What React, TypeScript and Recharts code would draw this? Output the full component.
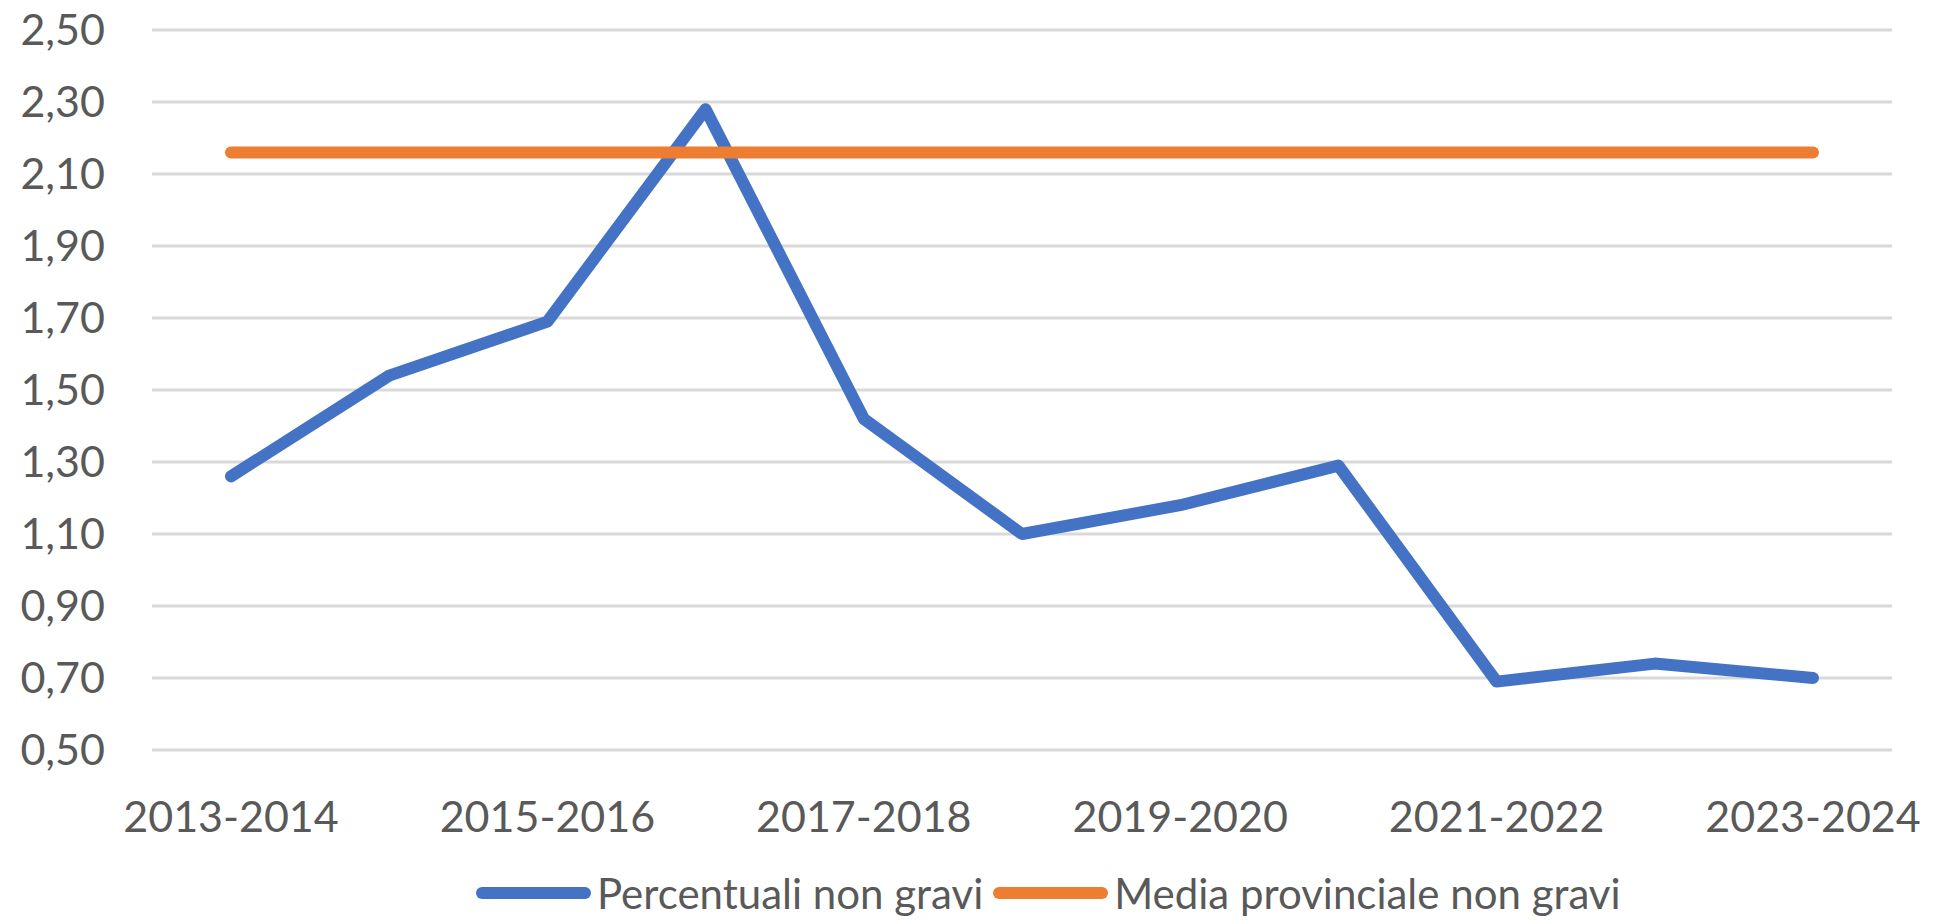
import { LineChart, Line, XAxis, YAxis, CartesianGrid, Legend } from 'recharts';

const anni = [
  '2013-2014', '2014-2015', '2015-2016', '2016-2017', '2017-2018', '2018-2019',
  '2019-2020', '2020-2021', '2021-2022', '2022-2023', '2023-2024',
];
const percentuali = [1.26, 1.54, 1.69, 2.28, 1.42, 1.1, 1.18, 1.29, 0.69, 0.74, 0.7];
const mediaProvinciale = [2.16, 2.16, 2.16, 2.16, 2.16, 2.16, 2.16, 2.16, 2.16, 2.16, 2.16];
const yTicks = [0.5, 0.7, 0.9, 1.1, 1.3, 1.5, 1.7, 1.9, 2.1, 2.3, 2.5];
const serie = ['Percentuali non gravi', 'Media provinciale non gravi'];

const data = anni.map((anno, i) => ({
  anno,
  percentuali: percentuali[i],
  media: mediaProvinciale[i],
}));

const FONT = 'Lato, "Open Sans", sans-serif';
const TEXT = '#595959';

function LegendContent(props: any) {
  const items = [...(props.payload || [])].sort(
    (a: any, b: any) => serie.indexOf(a.value) - serie.indexOf(b.value)
  );
  return (
    <div style={{ display: 'flex', alignItems: 'center', fontFamily: FONT, fontSize: 42, color: TEXT, whiteSpace: 'nowrap' }}>
      {items.map((it: any) => (
        <div key={it.value} style={{ display: 'flex', alignItems: 'center', marginRight: 10 }}>
          <svg width={115} height={14} style={{ marginRight: 6 }}>
            <line x1={6} y1={7} x2={109} y2={7} stroke={it.color} strokeWidth={12} strokeLinecap="round" />
          </svg>
          <span>{it.value}</span>
        </div>
      ))}
    </div>
  );
}

export default function App() {
  return (
    <div style={{ position: 'fixed', left: 0, top: 0, background: '#fff' }}>
      <LineChart width={1939} height={921} data={data} margin={{ top: 30, right: 47, bottom: 0, left: 0 }}>
        <CartesianGrid vertical={false} stroke="#d9d9d9" strokeWidth={3} />
        <XAxis
          dataKey="anno"
          interval={1}
          padding={{ left: 79, right: 79 }}
          axisLine={false}
          tickLine={false}
          tickSize={0}
          tickMargin={51}
          height={171}
          tick={{ fill: TEXT, fontSize: 43, fontFamily: FONT }}
        />
        <YAxis
          domain={[0.5, 2.5]}
          ticks={yTicks}
          width={152}
          axisLine={false}
          tickLine={false}
          tickSize={0}
          tickMargin={47}
          tickFormatter={(v: number) => v.toFixed(2).replace('.', ',')}
          tick={{ fill: TEXT, fontSize: 43, fontFamily: FONT }}
        />
        <Legend
          verticalAlign="middle"
          content={LegendContent}
          wrapperStyle={{ position: 'absolute', left: 476, top: 868, width: 'auto' }}
        />
        <Line
          type="linear"
          dataKey="percentuali"
          name={serie[0]}
          stroke="#4472C4"
          strokeWidth={12}
          strokeLinecap="round"
          strokeLinejoin="round"
          dot={false}
          isAnimationActive={false}
        />
        <Line
          type="linear"
          dataKey="media"
          name={serie[1]}
          stroke="#ED7D31"
          strokeWidth={12}
          strokeLinecap="round"
          strokeLinejoin="round"
          dot={false}
          isAnimationActive={false}
        />
      </LineChart>
    </div>
  );
}
